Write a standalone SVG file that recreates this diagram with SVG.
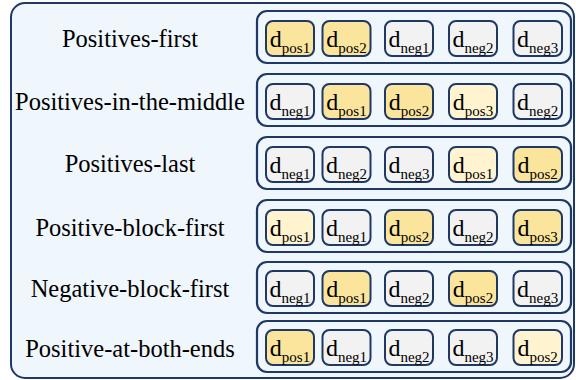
<svg xmlns="http://www.w3.org/2000/svg" width="576" height="380" viewBox="0 0 576 380">
<style>
.outer{fill:#eff6fc;stroke:#1f3864;stroke-width:2}
.row{fill:#eff6fc;stroke:#1f3864;stroke-width:2.2}
.c{stroke:#1f3864;stroke-width:2}
.dk{fill:#fbe59c}
.lt{fill:#fff4cf}
.gy{fill:#f2f2f2}
text{font-family:'Liberation Serif','Tinos','Times New Roman','DejaVu Serif',serif;fill:#000;text-anchor:middle}
.lbl{font-size:24.5px}
.dt{font-size:24px}
.sb{font-size:15px}
</style>
<rect class="outer" x="11" y="3" width="563" height="375" rx="14"/>

<g id="row1" font-family="Liberation Serif, serif">
<text class="lbl" x="130" y="47">Positives-first</text>
<rect class="row" x="257" y="11" width="314" height="52" rx="10"/>
<rect class="c dk" x="266" y="21" width="48" height="35" rx="7"/><text class="dt" x="290" y="47">d<tspan class="sb" dy="6">pos1</tspan></text>
<rect class="c dk" x="322.5" y="21" width="48" height="35" rx="7"/><text class="dt" x="346.5" y="47">d<tspan class="sb" dy="6">pos2</tspan></text>
<rect class="c gy" x="385" y="21" width="48" height="35" rx="7"/><text class="dt" x="409" y="47">d<tspan class="sb" dy="6">neg1</tspan></text>
<rect class="c gy" x="449" y="21" width="48" height="35" rx="7"/><text class="dt" x="473" y="47">d<tspan class="sb" dy="6">neg2</tspan></text>
<rect class="c gy" x="513.5" y="21" width="48.5" height="35" rx="7"/><text class="dt" x="537.7" y="47">d<tspan class="sb" dy="6">neg3</tspan></text>
</g>

<g id="row2">
<text class="lbl" x="130" y="110">Positives-in-the-middle</text>
<rect class="row" x="257" y="74" width="314" height="52" rx="10"/>
<rect class="c gy" x="266" y="84" width="48" height="35" rx="7"/><text class="dt" x="290" y="110">d<tspan class="sb" dy="6">neg1</tspan></text>
<rect class="c dk" x="322.5" y="84" width="48" height="35" rx="7"/><text class="dt" x="346.5" y="110">d<tspan class="sb" dy="6">pos1</tspan></text>
<rect class="c dk" x="385" y="84" width="48" height="35" rx="7"/><text class="dt" x="409" y="110">d<tspan class="sb" dy="6">pos2</tspan></text>
<rect class="c lt" x="449" y="84" width="48" height="35" rx="7"/><text class="dt" x="473" y="110">d<tspan class="sb" dy="6">pos3</tspan></text>
<rect class="c gy" x="513.5" y="84" width="48.5" height="35" rx="7"/><text class="dt" x="537.7" y="110">d<tspan class="sb" dy="6">neg2</tspan></text>
</g>

<g id="row3">
<text class="lbl" x="130" y="172">Positives-last</text>
<rect class="row" x="257" y="137" width="314" height="52" rx="10"/>
<rect class="c gy" x="266" y="147" width="48" height="35" rx="7"/><text class="dt" x="290" y="173">d<tspan class="sb" dy="6">neg1</tspan></text>
<rect class="c gy" x="322.5" y="147" width="48" height="35" rx="7"/><text class="dt" x="346.5" y="173">d<tspan class="sb" dy="6">neg2</tspan></text>
<rect class="c gy" x="385" y="147" width="48" height="35" rx="7"/><text class="dt" x="409" y="173">d<tspan class="sb" dy="6">neg3</tspan></text>
<rect class="c lt" x="449" y="147" width="48" height="35" rx="7"/><text class="dt" x="473" y="173">d<tspan class="sb" dy="6">pos1</tspan></text>
<rect class="c dk" x="513.5" y="147" width="48.5" height="35" rx="7"/><text class="dt" x="537.7" y="173">d<tspan class="sb" dy="6">pos2</tspan></text>
</g>

<g id="row4">
<text class="lbl" x="130" y="236">Positive-block-first</text>
<rect class="row" x="257" y="200" width="314" height="52" rx="10"/>
<rect class="c lt" x="266" y="210" width="48" height="35" rx="7"/><text class="dt" x="290" y="236">d<tspan class="sb" dy="6">pos1</tspan></text>
<rect class="c gy" x="322.5" y="210" width="48" height="35" rx="7"/><text class="dt" x="346.5" y="236">d<tspan class="sb" dy="6">neg1</tspan></text>
<rect class="c dk" x="385" y="210" width="48" height="35" rx="7"/><text class="dt" x="409" y="236">d<tspan class="sb" dy="6">pos2</tspan></text>
<rect class="c gy" x="449" y="210" width="48" height="35" rx="7"/><text class="dt" x="473" y="236">d<tspan class="sb" dy="6">neg2</tspan></text>
<rect class="c dk" x="513.5" y="210" width="48.5" height="35" rx="7"/><text class="dt" x="537.7" y="236">d<tspan class="sb" dy="6">pos3</tspan></text>
</g>

<g id="row5">
<text class="lbl" x="130" y="297">Negative-block-first</text>
<rect class="row" x="257" y="262" width="314" height="51" rx="10"/>
<rect class="c gy" x="266" y="271" width="48" height="35" rx="7"/><text class="dt" x="290" y="297">d<tspan class="sb" dy="6">neg1</tspan></text>
<rect class="c dk" x="322.5" y="271" width="48" height="35" rx="7"/><text class="dt" x="346.5" y="297">d<tspan class="sb" dy="6">pos1</tspan></text>
<rect class="c gy" x="385" y="271" width="48" height="35" rx="7"/><text class="dt" x="409" y="297">d<tspan class="sb" dy="6">neg2</tspan></text>
<rect class="c dk" x="449" y="271" width="48" height="35" rx="7"/><text class="dt" x="473" y="297">d<tspan class="sb" dy="6">pos2</tspan></text>
<rect class="c gy" x="513.5" y="271" width="48.5" height="35" rx="7"/><text class="dt" x="537.7" y="297">d<tspan class="sb" dy="6">neg3</tspan></text>
</g>

<g id="row6">
<text class="lbl" x="130" y="357">Positive-at-both-ends</text>
<rect class="row" x="257" y="321" width="314" height="51" rx="10"/>
<rect class="c dk" x="266" y="330" width="48" height="35" rx="7"/><text class="dt" x="290" y="356">d<tspan class="sb" dy="6">pos1</tspan></text>
<rect class="c gy" x="322.5" y="330" width="48" height="35" rx="7"/><text class="dt" x="346.5" y="356">d<tspan class="sb" dy="6">neg1</tspan></text>
<rect class="c gy" x="385" y="330" width="48" height="35" rx="7"/><text class="dt" x="409" y="356">d<tspan class="sb" dy="6">neg2</tspan></text>
<rect class="c gy" x="449" y="330" width="48" height="35" rx="7"/><text class="dt" x="473" y="356">d<tspan class="sb" dy="6">neg3</tspan></text>
<rect class="c lt" x="513.5" y="330" width="48.5" height="35" rx="7"/><text class="dt" x="537.7" y="356">d<tspan class="sb" dy="6">pos2</tspan></text>
</g>
</svg>
